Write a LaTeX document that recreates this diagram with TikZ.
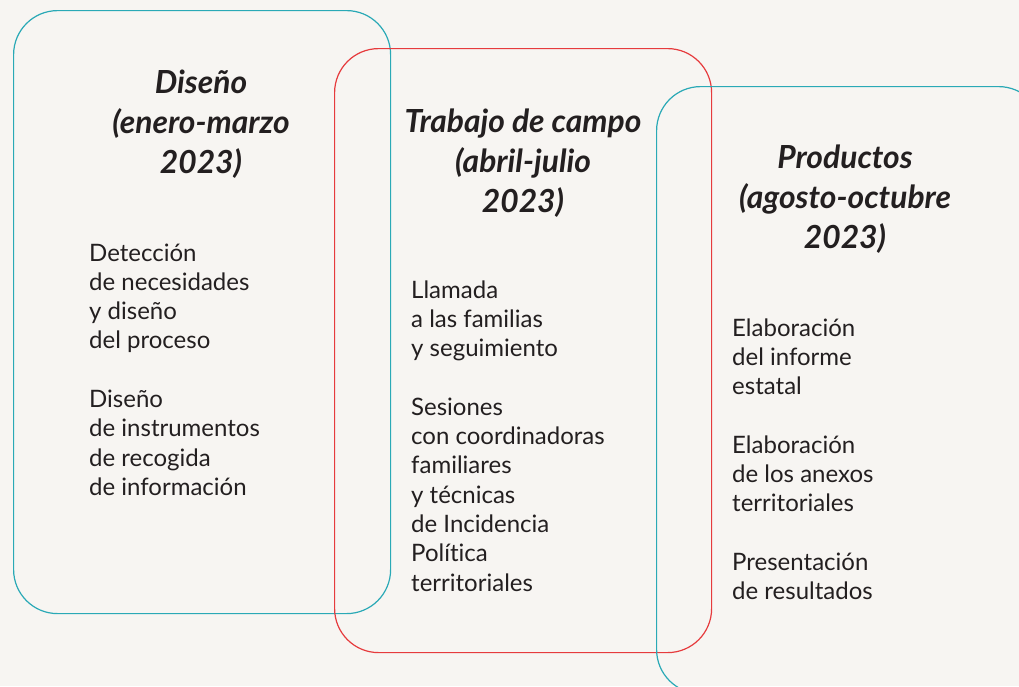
\documentclass[tikz,border=0pt]{standalone}
\usepackage{fontspec}
\setmainfont{Lato}[Ligatures=NoCommon]
\definecolor{bgc}{HTML}{F7F5F2}
\definecolor{tealc}{HTML}{2AA9B6}
\definecolor{redc}{HTML}{E63B3D}
\definecolor{txtc}{HTML}{231F20}
\tikzset{
  phase/.style={draw, line width=1.2pt, rounded corners=44pt, fill=none, inner sep=0pt, anchor=north west},
  heading/.style={align=center, inner sep=0pt, anchor=base, text=txtc,
    font=\fontsize{31.8pt}{40pt}\selectfont\bfseries\itshape},
  bodytxt/.style={align=left, inner sep=0pt, anchor=base west, text=txtc,
    font=\fontsize{24pt}{29.3pt}\selectfont}
}
\begin{document}
\begin{tikzpicture}[x=1pt,y=-1pt]
\useasboundingbox (0,0) rectangle (1019,686);
\clip (0,0) rectangle (1019,686);
\fill[bgc] (0,0) rectangle (1019,686);
% phase boxes
\node[phase, draw=tealc, minimum width=377pt, minimum height=603pt] (b1) at (13,10) {};
\node[phase, draw=redc, minimum width=377pt, minimum height=604pt] (b2) at (334,48) {};
\node[phase, draw=tealc, minimum width=386pt, minimum height=607pt] (b3) at (656,86) {};
% headings (anchor = baseline of last line)
\node[heading] (h1) at (201,173) {Diseño\\(enero-marzo\\2023)};
\node[heading] (h2) at (523,212) {Trabajo de campo\\(abril-julio\\2023)};
\node[heading] (h3) at (845,248) {Productos\\(agosto-octubre\\2023)};
% body texts (anchor = baseline of last line)
\node[bodytxt] (t1) at (89,495.4) {Detección\\de necesidades\\y diseño\\del proceso\\[29.3pt]Diseño\\de instrumentos\\de recogida\\de información};
\node[bodytxt] (t2) at (411,591) {Llamada\\a las familias\\y seguimiento\\[29.3pt]Sesiones\\con coordinadoras\\familiares\\y técnicas\\de Incidencia\\Política\\territoriales};
\node[bodytxt] (t3) at (732,599.7) {Elaboración\\del informe\\estatal\\[29.3pt]Elaboración\\de los anexos\\territoriales\\[29.3pt]Presentación\\de resultados};
\end{tikzpicture}
\end{document}
